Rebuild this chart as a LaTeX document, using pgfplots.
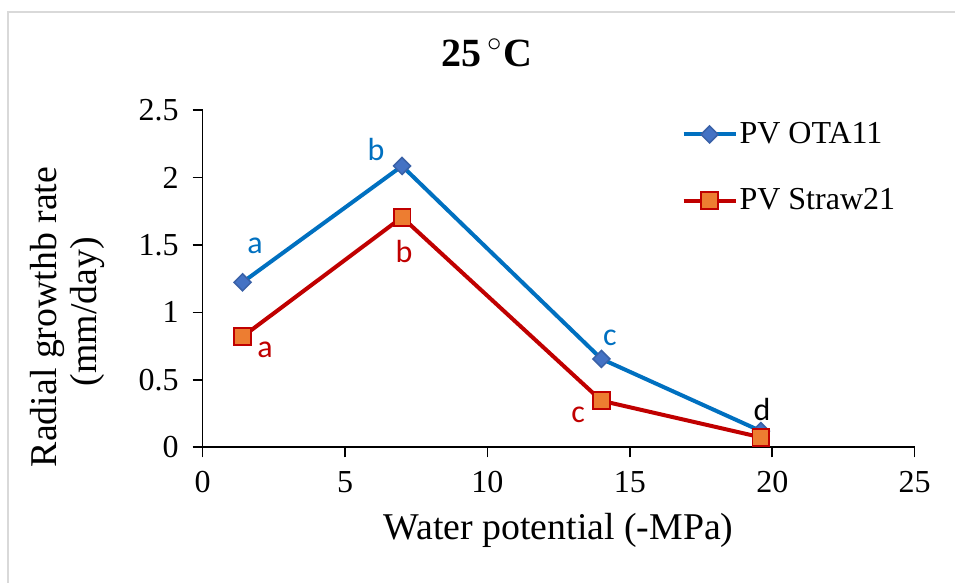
\documentclass[border=0pt]{standalone}
\usepackage{fontspec}
\setmainfont{Liberation Serif}
\newfontfamily\calib{Carlito}
\usepackage{pgfplots}
\pgfplotsset{compat=1.18}

\definecolor{bluel}{RGB}{0,112,192}
\definecolor{bluem}{RGB}{68,114,196}
\definecolor{redl}{RGB}{192,0,0}
\definecolor{orangem}{RGB}{237,125,49}
\definecolor{framegray}{RGB}{217,217,217}

\begin{document}
\begin{tikzpicture}
\path[use as bounding box] (-101.35pt,-67.85pt) rectangle (376.15pt,223.65pt);
\draw[framegray, line width=1pt] (-97.35pt,-67.85pt) -- (-97.35pt,217.65pt) -- (376.15pt,217.65pt);
\begin{axis}[
  at={(0pt,0pt)}, anchor=origin,
  scale only axis, width=356pt, height=168.65pt,
  xmin=0, xmax=25, ymin=0, ymax=2.5,
  xtick={0,5,10,15,20,25}, ytick={0,0.5,1,1.5,2,2.5},
  axis lines*=left,
  axis line style={-, line width=0.8pt, black},
  tick align=outside, major tick length=5pt,
  tick style={black, line width=0.8pt},
  /pgf/number format/assume math mode=true,
  tick label style={font=\fontsize{16}{19}\selectfont},
  yticklabel style={xshift=-3.5pt},
  xticklabel style={yshift=-3.5pt},
  clip=false,
  legend style={draw=none, fill=none, at={(axis description cs:0.672,0.8295)}, anchor=west,
    font=\fontsize{16}{19}\selectfont, row sep=21pt, column sep=1pt, inner sep=0pt,
    nodes={inner sep=0pt}},
  legend cell align=left,
  legend image code/.code={\draw[mark repeat=2,mark phase=2,#1] plot coordinates {(0pt,0pt) (13pt,0pt) (26pt,0pt)};},
]
\addplot[bluel, line width=2pt, mark=square*, mark size=3pt,
  mark options={rotate=45, fill=bluem, draw=bluem!85!black, line width=0.75pt}]
  coordinates {(1.4,1.223) (7,2.085) (14,0.655) (19.6,0.12)};
\addlegendentry{PV OTA11}
\addplot[redl, line width=2pt, mark=square*, mark size=4.2pt,
  mark options={fill=orangem, draw=redl, line width=0.9pt}]
  coordinates {(1.4,0.82) (7,1.705) (14,0.345) (19.6,0.074)};
\addlegendentry{PV Straw21}

% significance letters
\node[bluel, font=\calib\fontsize{16}{19}\selectfont] at (axis cs:1.836,1.492) {a};
\node[bluel, font=\calib\fontsize{16}{19}\selectfont] at (axis cs:6.085,2.204) {b};
\node[bluel, font=\calib\fontsize{16}{19}\selectfont] at (axis cs:14.30,0.810) {c};
\node[black, font=\calib\fontsize{16}{19}\selectfont] at (axis cs:19.64,0.277) {d};
\node[redl, font=\calib\fontsize{16}{19}\selectfont] at (axis cs:2.19,0.721) {a};
\node[redl, font=\calib\fontsize{16}{19}\selectfont] at (axis cs:7.07,1.448) {b};
\node[redl, font=\calib\fontsize{16}{19}\selectfont] at (axis cs:13.18,0.239) {c};
\end{axis}

% title and axis titles
\node[anchor=base, font=\bfseries\fontsize{20}{24}\selectfont] at (141.9pt,190.15pt) {25\,$^{\circ}$C};
\node[anchor=base, font=\fontsize{18.9}{22}\selectfont] at (178pt,-46.35pt) {Water potential (-MPa)};
\node[anchor=base, rotate=90, font=\fontsize{18.9}{22}\selectfont] at (-72.85pt,65.15pt) {Radial growthb rate};
\node[anchor=base, rotate=90, font=\fontsize{18.9}{22}\selectfont] at (-52.85pt,67.9pt) {(mm/day)};
\end{tikzpicture}
\end{document}
